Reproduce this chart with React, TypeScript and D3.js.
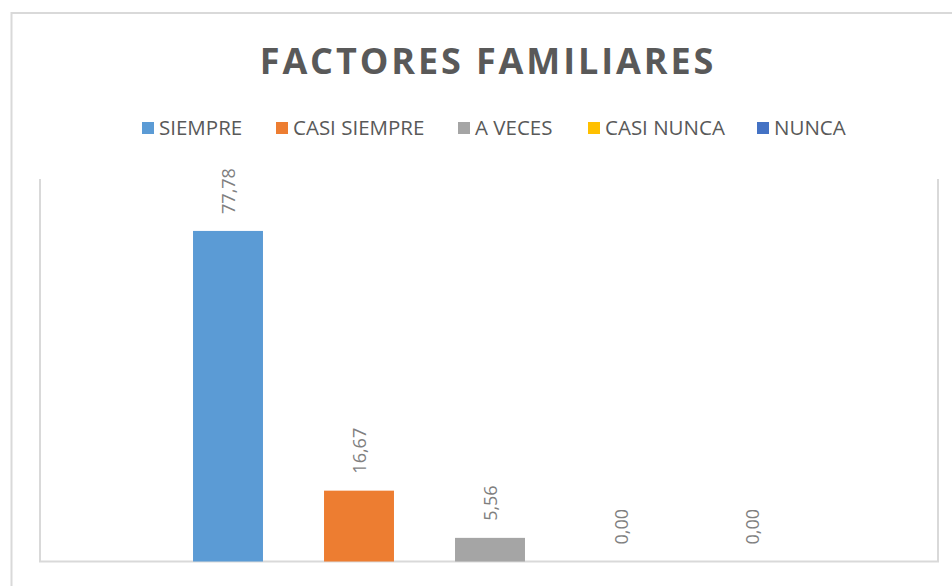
import React, { useEffect, useRef } from "react";
import * as d3 from "d3";

const title = "FACTORES FAMILIARES";
const series = ["SIEMPRE", "CASI SIEMPRE", "A VECES", "CASI NUNCA", "NUNCA"];
const values = [77.78, 16.67, 5.56, 0.0, 0.0];
const colors = ["#5b9bd5", "#ed7d31", "#a5a5a5", "#ffc000", "#4472c4"];
const yMax = 90;

export default function App() {
  const svgRef = useRef<SVGSVGElement>(null);

  useEffect(() => {
    const w = 952;
    const h = 586;
    const svg = d3.select(svgRef.current).attr("width", w).attr("height", h);
    svg.selectAll("*").remove();

    const font = "'Open Sans', sans-serif";

    // outer chart border (cut off at right and bottom)
    svg.append("rect")
      .attr("x", 11.5).attr("y", 13)
      .attr("width", w + 20).attr("height", h + 20)
      .attr("fill", "white")
      .attr("stroke", "#d9d9d9")
      .attr("stroke-width", 2);

    // plot area
    const left = 40, right = 938, top = 179, bottom = 561.5;

    const yScale = d3.scaleLinear().domain([0, yMax]).range([bottom, top]);

    // one category, five series side by side
    const mid = (left + right) / 2 + 1;
    const groupHalf = 327.5;
    const xScale = d3.scaleBand()
      .domain(series)
      .range([mid - groupHalf, mid + groupHalf])
      .paddingInner(0.466)
      .paddingOuter(0.233);

    // frame: left, bottom, right
    svg.append("path")
      .attr("d", `M${left},${top}V${bottom}H${right}V${top}`)
      .attr("fill", "none")
      .attr("stroke", "#d9d9d9")
      .attr("stroke-width", 2);

    // bars
    svg.selectAll(".bar")
      .data(values)
      .join("rect")
      .attr("class", "bar")
      .attr("x", (d, i) => xScale(series[i]))
      .attr("y", d => yScale(d))
      .attr("width", xScale.bandwidth())
      .attr("height", d => bottom - yScale(d))
      .attr("fill", (d, i) => colors[i]);

    // labels, rotated
    svg.selectAll(".label")
      .data(values)
      .join("text")
      .attr("class", "label")
      .attr("transform", (d, i) => {
        const x = xScale(series[i]) + xScale.bandwidth() / 2;
        const y = yScale(d) - 17;
        return `translate(${x},${y}) rotate(-90)`;
      })
      .attr("dominant-baseline", "central")
      .attr("text-anchor", "start")
      .style("font-family", font)
      .style("font-size", "18px")
      .style("fill", "#7f7f7f")
      .text(d => d.toFixed(2).replace(".", ","));

    // title
    svg.append("text")
      .attr("x", 488)
      .attr("y", 74)
      .attr("text-anchor", "middle")
      .style("font-family", font)
      .style("font-weight", "bold")
      .style("font-size", "36px")
      .style("letter-spacing", "2.9px")
      .style("fill", "#595959")
      .text(title);

    // legend
    const legendX = [142, 276, 458, 588, 757];
    const lg = svg.selectAll(".legend")
      .data(series)
      .join("g")
      .attr("class", "legend")
      .attr("transform", (d, i) => `translate(${legendX[i]},122)`);
    lg.append("rect")
      .attr("width", 12).attr("height", 12)
      .attr("fill", (d, i) => colors[i]);
    lg.append("text")
      .attr("x", 17)
      .attr("y", 13)
      .style("font-family", font)
      .style("font-size", "20.5px")
      .style("fill", "#595959")
      .text(d => d);
  }, []);

  return (
    <div style={{ position: "fixed", left: 0, top: 0 }}>
      <svg ref={svgRef} style={{ display: "block" }}></svg>
    </div>
  );
}
